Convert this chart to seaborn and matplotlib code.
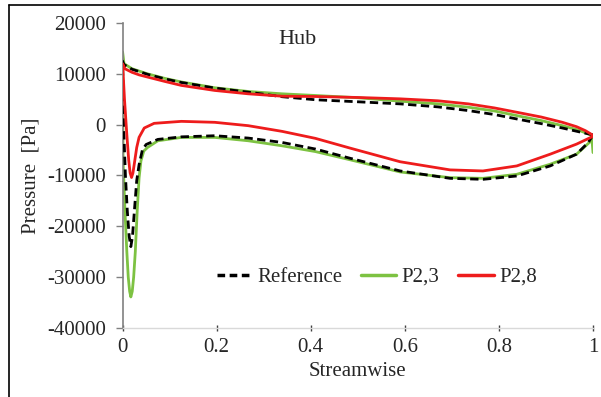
import numpy as np
import pandas as pd
import matplotlib
matplotlib.use('Agg')
import matplotlib.pyplot as plt
import seaborn as sns
from matplotlib.lines import Line2D

sns.set_theme(style='white')
plt.rcParams['font.family'] = ['Liberation Serif', 'DejaVu Serif']
plt.rcParams['axes.unicode_minus'] = False

# pressure side (upper branch), leading edge -> trailing edge
ref_up_x = [0.0, 0.003, 0.02, 0.053, 0.09, 0.125, 0.196, 0.267, 0.339, 0.41, 0.5, 0.59,
            0.67, 0.735, 0.79, 0.838, 0.89, 0.935, 0.97, 1.0]
ref_up_p = [12500, 11800, 10900, 9900, 9000, 8300, 7200, 6400, 5500, 4900, 4500, 4090,
            3500, 2770, 2000, 1120, 200, -660, -1400, -2000]
# suction side (lower branch), leading edge -> trailing edge
ref_lo_x = [0.0, 0.002, 0.006, 0.01, 0.014, 0.0175, 0.021, 0.025, 0.03, 0.035, 0.042, 0.05,
            0.075, 0.125, 0.196, 0.267, 0.339, 0.41, 0.483, 0.59, 0.696, 0.766,
            0.838, 0.909, 0.965, 0.99, 1.0]
ref_lo_p = [12500, 0, -10000, -17000, -22000, -24000, -22000, -17000, -11000, -7900, -5000,
            -3900, -2900, -2400, -2180, -2640, -3500, -4800, -6600, -9110, -10560,
            -10760, -10100, -8120, -5810, -3500, -2000]

p23_up_x = [0.0, 0.003, 0.02, 0.053, 0.09, 0.125, 0.196, 0.267, 0.339, 0.41, 0.5, 0.59,
            0.67, 0.735, 0.79, 0.838, 0.89, 0.935, 0.97, 0.997, 1.0]
p23_up_p = [14300, 12000, 11000, 10000, 9100, 8400, 7260, 6530, 6070, 5740, 5300, 4620,
            4100, 3430, 2700, 1780, 800, -200, -1100, -2100, -5500]
p23_lo_x = [0.0, 0.001, 0.005, 0.009, 0.012, 0.015, 0.0175, 0.0205, 0.0235, 0.027, 0.031,
            0.035, 0.039, 0.045, 0.053, 0.075, 0.125, 0.196, 0.267, 0.339, 0.41,
            0.483, 0.59, 0.696, 0.766, 0.838, 0.909, 0.965, 0.99, 0.997]
p23_lo_p = [14300, -7000, -17000, -25000, -30000, -32800, -33900, -32800, -30000, -25000,
            -17000, -10500, -7130, -5200, -4490, -3170, -2510, -2510, -3170, -4160, -5300,
            -6900, -9310, -10430, -10560, -9770, -7790, -5810, -3700, -3100]

p28_up_x = [0.0, 0.005, 0.02, 0.035, 0.053, 0.09, 0.125, 0.196, 0.267, 0.339, 0.41, 0.5,
            0.59, 0.67, 0.735, 0.79, 0.838, 0.89, 0.935, 0.965, 0.984, 1.0]
p28_up_p = [12000, 11000, 10300, 9800, 9370, 8500, 7720, 6730, 6070, 5600, 5540, 5350,
            5080, 4700, 4090, 3300, 2440, 1500, 460, -400, -1190, -2100]
p28_lo_x = [0.0, 0.004, 0.009, 0.013, 0.016, 0.019, 0.022, 0.026, 0.03, 0.035, 0.046, 0.067,
            0.125, 0.196, 0.267, 0.339, 0.41, 0.483, 0.59, 0.696, 0.766, 0.838,
            0.909, 0.965, 1.0]
p28_lo_p = [12000, 5000, -2000, -7000, -9500, -10400, -9500, -7000, -4500, -2500, -660, 260,
            650, 460, -200, -1320, -2700, -4600, -7300, -8900, -9110, -8120, -5810,
            -3830, -2300]

y_ticks = [20000, 10000, 0, -10000, -20000, -30000, -40000]
x_ticks = [0, 0.2, 0.4, 0.6, 0.8, 1.0]
x_tick_labels = ['0', '0.2', '0.4', '0.6', '0.8', '1']


def loop_frame(up_x, up_p, lo_x, lo_p, name):
    # walk the lower branch backwards, then the upper branch forwards
    xs = list(reversed(lo_x)) + list(up_x)
    ps = list(reversed(lo_p)) + list(up_p)
    return pd.DataFrame({'x': xs, 'p': ps, 'series': name, 'order': range(len(xs))})


df = pd.concat([
    loop_frame(ref_up_x, ref_up_p, ref_lo_x, ref_lo_p, 'Reference'),
    loop_frame(p23_up_x, p23_up_p, p23_lo_x, p23_lo_p, 'P2,3'),
    loop_frame(p28_up_x, p28_up_p, p28_lo_x, p28_lo_p, 'P2,8'),
])

fig = plt.figure(figsize=(6.01, 3.97), dpi=100)
ax = fig.add_axes([0.204, 0.174, 0.7827, 0.768])

green = '#7dc242'
red = '#ee1c1c'
styles = {
    'P2,3': dict(color=green, ls='-', zorder=2),
    'Reference': dict(color='black', ls=(0, (3, 1.6)), zorder=3),
    'P2,8': dict(color=red, ls='-', zorder=4),
}
for name in ['P2,3', 'Reference', 'P2,8']:
    sub = df[df['series'] == name]
    st = styles[name]
    sns.lineplot(data=sub, x='x', y='p', sort=False, estimator=None, ax=ax,
                 color=st['color'], linewidth=2.0, linestyle=st['ls'],
                 zorder=st['zorder'])

ax.set_xlim(0, 1.0)
ax.set_ylim(-40000, 20000)
ax.set_yticks(y_ticks)
ax.set_yticklabels([str(v) for v in y_ticks])
ax.set_xticks(x_ticks)
ax.set_xticklabels(x_tick_labels)

for side in ['top', 'right']:
    ax.spines[side].set_visible(False)
ax.spines['left'].set_color('#808080')
ax.spines['left'].set_linewidth(1.2)
ax.spines['bottom'].set_color('#d9d9d9')
ax.spines['bottom'].set_linewidth(1.0)
ax.tick_params(axis='y', direction='out', length=5, width=1, color='#808080',
               labelsize=15, pad=7, left=True)
ax.tick_params(axis='x', direction='inout', length=5, width=1, color='#404040',
               labelsize=15, pad=5, bottom=True)

ax.set_xlabel('Streamwise', fontsize=15, labelpad=3)
ax.set_ylabel('Pressure  [Pa]', fontsize=15, labelpad=5)
ax.text(0.372, 0.945, 'Hub', transform=ax.transAxes, fontsize=16, ha='center', va='center')

handles = [
    Line2D([], [], color='black', lw=2.5, ls=(0, (2.2, 1.3))),
    Line2D([], [], color=green, lw=2.5),
    Line2D([], [], color=red, lw=2.5),
]
ax.legend(handles, ['Reference', 'P2,3', 'P2,8'], loc='center', bbox_to_anchor=(0.54, 0.167),
          ncol=3, frameon=False, fontsize=15, handlelength=1.7, handletextpad=0.25,
          columnspacing=0.9)

# thin frame around the picture (only top and left are visible in the crop)
fig.add_artist(Line2D([0.015, 1.0], [0.987, 0.987], transform=fig.transFigure, color='black', lw=1.2))
fig.add_artist(Line2D([0.015, 0.015], [0.0, 0.987], transform=fig.transFigure, color='black', lw=1.2))

fig.savefig('out.png', dpi=100)
